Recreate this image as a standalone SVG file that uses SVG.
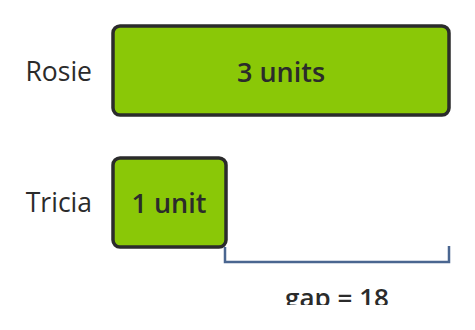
<svg xmlns="http://www.w3.org/2000/svg" width="475" height="330" viewBox="0 0 475 330">
<defs>
<clipPath id="clip"><rect x="0" y="0" width="475" height="305"/></clipPath>
<style>
.box{fill:#8ac807;stroke:#2b2b2b;stroke-width:3.5}
.name{font-family:"Open Sans",Lato,sans-serif;font-size:26.5px;fill:#2b2b2b;text-anchor:end}
.lbl{font-family:"Open Sans",Lato,sans-serif;font-size:27px;font-weight:600;fill:#2b2b2b;text-anchor:middle}
.br{fill:none;stroke:#4a6690;stroke-width:2.5}
</style>
</defs>
<rect width="475" height="330" fill="#ffffff"/>
<g clip-path="url(#clip)">
<g id="rosie">
<text class="name" x="92" y="81">Rosie</text>
<rect class="box" x="113" y="26" width="336" height="89" rx="7"/>
<text class="lbl" x="281" y="82">3 units</text>
</g>
<g id="tricia">
<text class="name" x="92" y="212">Tricia</text>
<rect class="box" x="113" y="158" width="113" height="89" rx="7"/>
<text class="lbl" x="169" y="213">1 unit</text>
</g>
<g id="connectors">
<path class="br" d="M225 247 V262 H449 V246"/>
</g>
<g id="gap">
<text class="lbl" x="337" y="307" style="font-size:26px">gap = 18</text>
</g>
</g>
</svg>
